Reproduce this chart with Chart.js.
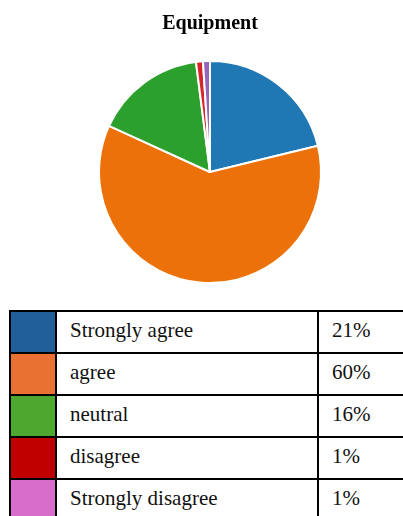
<!DOCTYPE html>
<html>
<head>
<meta charset="utf-8">
<script src="https://cdn.jsdelivr.net/npm/chart.js@4.4.1/dist/chart.umd.min.js"></script>
<style>
    html, body {
        margin: 0;
        padding: 0;
        background: #fff;
        width: 403px;
        height: 516px;
        overflow: hidden;
        position: relative;
    }
    #chartBox {
        position: absolute;
        left: 0;
        top: 0;
        width: 403px;
        height: 300px;
    }
    #legendTable {
        position: absolute;
        left: 9px;
        top: 310px;
        width: 432px;
        border-collapse: separate;
        border-spacing: 0;
        border-top: 2px solid #000;
        border-left: 2px solid #000;
        font-family: "Liberation Serif", "Times New Roman", serif;
        font-size: 21px;
        color: #111;
        table-layout: fixed;
    }
    #legendTable td {
        box-sizing: border-box;
        height: 42px;
        padding: 0 0 4px 13px;
        border-right: 2px solid #000;
        border-bottom: 2px solid #000;
        vertical-align: middle;
        white-space: nowrap;
    }
</style>
</head>
<body>
<div id="chartBox"><canvas id="pieChart"></canvas></div>
<table id="legendTable">
    <colgroup>
        <col style="width:46px">
        <col style="width:262px">
        <col style="width:122px">
    </colgroup>
    <tbody id="table-body"></tbody>
</table>

<script>
const labels = ["Strongly agree", "agree", "neutral", "disagree", "Strongly disagree"];
const values = [21, 60, 16, 1, 1];
const pieColors = ["#1f77b4", "#ec7109", "#2ca02c", "#d62728", "#9467bd"];
const tableColors = ["#215f9a", "#e97132", "#4ea72e", "#c00000", "#d86dcb"];

// table under the pie
let tableData = "";
labels.forEach((label, i) => {
    tableData += `<tr>
        <td style="background:${tableColors[i]};padding:0"></td>
        <td>${label}</td>
        <td>${values[i]}%</td>
    </tr>`;
});
document.getElementById("table-body").innerHTML = tableData;

const ctx = document.getElementById("pieChart").getContext("2d");
const pieChart = new Chart(ctx, {
    type: "pie",
    data: {
        labels: labels,
        datasets: [
            {
                label: "Equipment",
                data: values,
                backgroundColor: pieColors,
                borderColor: "#ffffff",
                borderWidth: 2,
            },
        ],
    },
    options: {
        responsive: true,
        maintainAspectRatio: false,
        animation: false,
        layout: {
            padding: { top: 0, left: 17, right: 0, bottom: 16 },
        },
        plugins: {
            legend: { display: false },
            tooltip: { enabled: false },
            title: {
                display: true,
                text: "Equipment",
                color: "#000",
                font: { family: "'Liberation Serif', 'Times New Roman', serif", size: 20, weight: "bold" },
                padding: { top: 12, bottom: 24 },
            },
        },
    },
});
</script>
</body>
</html>
